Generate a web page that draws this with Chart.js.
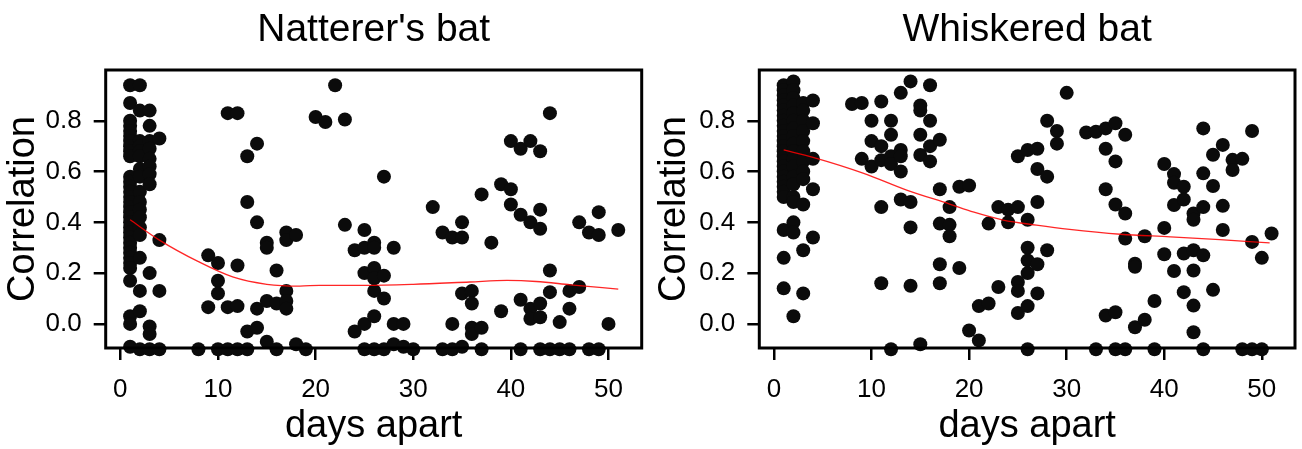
<!DOCTYPE html>
<html>
<head>
<meta charset="utf-8">
<script src="https://cdn.jsdelivr.net/npm/chart.js@4"></script>
<style>
  body { margin: 0; background: #fff; }
  .wrap { display: flex; width: 1302px; height: 449px; }
  .panel { width: 651px; height: 449px; }
</style>
</head>
<body>
<div class="wrap">
  <div class="panel"><canvas id="natterer" width="651" height="449"></canvas></div>
  <div class="panel"><canvas id="whiskered" width="651" height="449"></canvas></div>
</div>
<script>
// axis ticks shared by both panels
const xTicks = [0, 10, 20, 30, 40, 50];
const yTicks = [0, 0.2, 0.4, 0.6, 0.8];

// Natterer's bat: one entry per point (days apart, correlation)
const nattererDays = [
  1,1,1,1,1,1,1,1,1,1, 1,1,1,1,1,1,1,1,1,1, 1,1,1,1,1,1,1,1,1,1, 1,1,1,
  2,2,2,2,2,2,2,2,2,2, 2,2,2,2,2,2,2,2,
  3,3,3,3,3,3,3,3,3,3, 3,3,
  4,4,4,4,
  8, 9,9, 10,10,10,10, 11,11,11, 12,12,12,12, 13,13,13,13, 14,14,14,14,
  15,15,15,15, 16,16,16, 17,17,17,17,17, 18,18, 19, 20, 21, 22, 23,23,
  24,24, 25,25,25,25,25, 26,26,26,26,26,26,26, 27,27,27,27, 28,28,28, 29,29, 30,
  32, 33,33, 34,34,34, 35,35,35,35, 36,36,36,36, 37,37,37, 38, 39,39, 40,40,40,
  41,41,41,41, 42,42,42,42, 43,43,43,43,43,43, 44,44,44,44, 45,45, 46,46,46,
  47,47, 48,48, 49,49,49, 50, 51
];
const nattererCorr = [
  0.94,0.87,0.80,0.78,0.76,0.74,0.72,0.70,0.68,0.66, 0.58,0.56,0.54,0.52,0.50,0.48,0.46,0.44,0.42,0.40, 0.38,0.36,0.34,0.32,0.30,0.28,0.26,0.24,0.22,0.17, 0.03,0.00,-0.09,
  0.94,0.84,0.72,0.70,0.68,0.66,0.61,0.58,0.52,0.48, 0.45,0.42,0.38,0.35,0.26,0.13,0.05,-0.10,
  0.84,0.78,0.72,0.69,0.65,0.62,0.59,0.55,0.20,-0.01, -0.04,-0.10,
  0.73,0.33,0.13,-0.10,
  -0.10, 0.27,0.066, 0.24,0.17,0.12,-0.10, 0.83,0.066,-0.10, 0.83,0.23,0.07,-0.10, 0.66,0.48,-0.03,-0.10, 0.71,0.40,0.06,-0.015,
  0.32,0.30,0.09,-0.07, 0.21,0.08,-0.10, 0.36,0.33,0.13,0.09,0.06, 0.35,-0.08, -0.10, 0.815, 0.795, 0.94, 0.805,0.39,
  0.29,-0.03, 0.37,0.30,0.20,0.00,-0.10, 0.32,0.30,0.22,0.18,0.13,0.03,-0.10, 0.58,0.19,0.10,-0.10, 0.30,0.00,-0.08, 0.00,-0.09, -0.10,
  0.46, 0.36,-0.10, 0.34,0.00,-0.10, 0.40,0.34,0.12,-0.09, 0.13,0.08,-0.015,-0.04, 0.51,-0.015,-0.10, 0.32, 0.55,0.05, 0.72,0.53,0.47,
  0.69,0.43,0.095,-0.10, 0.72,0.40,0.06,0.02, 0.68,0.45,0.375,0.08,0.026,-0.10, 0.83,0.21,0.125,-0.10, 0.007,-0.10, 0.13,0.06,-0.10,
  0.40,0.145, 0.36,-0.10, 0.44,0.35,-0.10, 0.00, 0.37
];
// smoothed trend
const nattererFitDays = [1, 4, 8, 11.5, 15, 18.4, 20.4, 25, 30, 35.8, 39.6, 42.6, 46.1, 51];
const nattererFit = [0.41, 0.33, 0.245, 0.185, 0.156, 0.149, 0.152, 0.152, 0.156, 0.165, 0.171, 0.167, 0.154, 0.137];

// Whiskered bat
const whiskeredDays = [
  1,1,1,1,1,1,1,1,1,1, 1,1,1,1,1,1,1,1,1,1, 1,1,1,1,1,1,
  2,2,2,2,2,2,2,2,2,2, 2,2,2,2,2,2,2,2,2,
  3,3,3,3,3,3,3,3,3,3, 3,3,
  4,4,4,4,4,
  8, 9,9, 10,10,10, 11,11,11,11,11, 12,12,12,12,12, 13,13,13,13,13, 14,14,14,14,
  15,15,15,15,15, 16,16,16,16, 17,17,17,17,17, 18,18,18, 19,19, 20,20, 21,21,
  22,22, 23,23, 24,24, 25,25,25,25,25, 26,26,26,26,26,26,26, 27,27,27,27,27,
  28,28,28, 29,29, 30, 32, 33,33, 34,34,34,34, 35,35,35,35,35, 36,36,36,36,
  37,37,37, 38,38, 39,39, 40,40,40, 41,41,41,41, 42,42,42,42, 43,43,43,43,43,43,
  44,44,44,44,44, 45,45,45, 46,46,46, 47,47, 48,48, 49,49,49, 50,50, 51
];
const whiskeredCorr = [
  0.94,0.92,0.90,0.88,0.86,0.84,0.82,0.80,0.78,0.76, 0.74,0.72,0.70,0.68,0.66,0.64,0.62,0.60,0.58,0.56, 0.54,0.52,0.50,0.37,0.26,0.14,
  0.955,0.92,0.89,0.86,0.83,0.80,0.77,0.74,0.71,0.68, 0.65,0.62,0.58,0.55,0.50,0.48,0.40,0.36,0.03,
  0.87,0.84,0.80,0.76,0.72,0.68,0.64,0.60,0.57,0.47, 0.29,0.12,
  0.88,0.79,0.65,0.53,0.34,
  0.866, 0.87,0.65, 0.80,0.72,0.62, 0.876,0.70,0.645,0.46,0.16, 0.80,0.745,0.66,0.63,-0.10, 0.91,0.685,0.66,0.60,0.49, 0.955,0.48,0.38,0.15,
  0.86,0.84,0.745,0.665,-0.08, 0.94,0.80,0.70,0.64, 0.725,0.53,0.395,0.235,0.16, 0.46,0.39,0.345, 0.54,0.22, 0.545,-0.026, 0.07,-0.065,
  0.395,0.08, 0.46,0.145, 0.45,0.40, 0.66,0.46,0.165,0.13,0.043, 0.685,0.41,0.30,0.25,0.20,0.07,-0.10, 0.69,0.61,0.48,0.235,0.12,
  0.80,0.58,0.29, 0.76,0.71, 0.91, 0.754, 0.757,-0.10, 0.77,0.69,0.53,0.033, 0.79,0.64,0.47,0.046,-0.10, 0.745,0.435,0.336,-0.10,
  0.237,0.225,-0.013, 0.345,0.016, 0.09,-0.10, 0.63,0.378,0.274, 0.59,0.556,0.468,0.208, 0.54,0.49,0.277,0.125, 0.435,0.41,0.29,0.21,0.072,-0.033,
  0.77,0.593,0.46,0.27,-0.10, 0.666,0.543,0.134, 0.705,0.465,0.37, 0.646,0.606, 0.65,-0.10, 0.76,0.323,-0.10, 0.26,-0.10, 0.356
];
const whiskeredFitDays = [1, 4, 9.2, 13.6, 18, 20.5, 23.5, 26.9, 30.3, 35.5, 40.6, 45.7, 50.8];
const whiskeredFit = [0.685, 0.656, 0.593, 0.527, 0.472, 0.44, 0.409, 0.389, 0.372, 0.353, 0.343, 0.332, 0.319];

Chart.defaults.font.family = "'Liberation Sans', Arial, Helvetica, sans-serif";
Chart.defaults.color = '#000';

// box round the plot region, like R's box()
const frame = {
  id: 'frame',
  afterDatasetsDraw(chart) {
    const { ctx, chartArea: a } = chart;
    ctx.save();
    ctx.strokeStyle = '#000';
    ctx.lineWidth = 3;
    ctx.strokeRect(a.left, a.top, a.right - a.left, a.bottom - a.top);
    ctx.restore();
  }
};

function makePanel(id, title, days, corr, fitDays, fitCorr, yWidth, rightPad) {
  const points = days.map((d, i) => ({ x: d, y: corr[i] }));
  const fit = fitDays.map((d, i) => ({ x: d, y: fitCorr[i] }));

  return new Chart(document.getElementById(id), {
    type: 'scatter',
    data: {
      datasets: [
        {
          data: fit, showLine: true, borderColor: 'rgba(255,0,0,0.85)', borderWidth: 1.3,
          pointRadius: 0, cubicInterpolationMode: 'monotone', order: 0, clip: false
        },
        {
          data: points, pointRadius: 7, pointBackgroundColor: '#0b0b0b',
          pointBorderWidth: 0, order: 1, clip: false
        }
      ]
    },
    options: {
      responsive: false,
      animation: false,
      devicePixelRatio: 1,
      layout: { padding: { left: 0, right: rightPad, top: 0, bottom: 0 } },
      plugins: {
        legend: { display: false },
        tooltip: { enabled: false },
        title: {
          display: true, text: title, fullSize: false,
          font: { size: 39, weight: 'normal' },
          padding: { top: 6.4, bottom: 16.8 }
        }
      },
      scales: {
        x: {
          type: 'linear', min: -1.5, max: 53.4,
          afterBuildTicks: s => { s.ticks = xTicks.map(v => ({ value: v })); },
          afterFit: s => { s.height = 101; },
          grid: { drawOnChartArea: false, color: '#000', lineWidth: 2.5, tickLength: 12 },
          border: { display: false },
          ticks: { font: { size: 26 }, padding: 14, maxRotation: 0, autoSkip: false },
          title: { display: true, text: 'days apart', font: { size: 38 }, padding: { top: 0, bottom: 0 } }
        },
        y: {
          min: -0.095, max: 1.0,
          afterBuildTicks: s => { s.ticks = yTicks.map(v => ({ value: v })); },
          afterFit: s => { s.width = yWidth; },
          grid: { drawOnChartArea: false, color: '#000', lineWidth: 2.5, tickLength: 12 },
          border: { display: false },
          ticks: { font: { size: 26 }, padding: 12, callback: v => v.toFixed(1) },
          title: { display: true, text: 'Correlation', font: { size: 38 }, padding: { top: 1, bottom: 0 } }
        }
      }
    },
    plugins: [frame]
  });
}

makePanel('natterer', "Natterer's bat", nattererDays, nattererCorr, nattererFitDays, nattererFit, 105.7, 9.3);
makePanel('whiskered', 'Whiskered bat', whiskeredDays, whiskeredCorr, whiskeredFitDays, whiskeredFit, 108.3, 7);
</script>
</body>
</html>
